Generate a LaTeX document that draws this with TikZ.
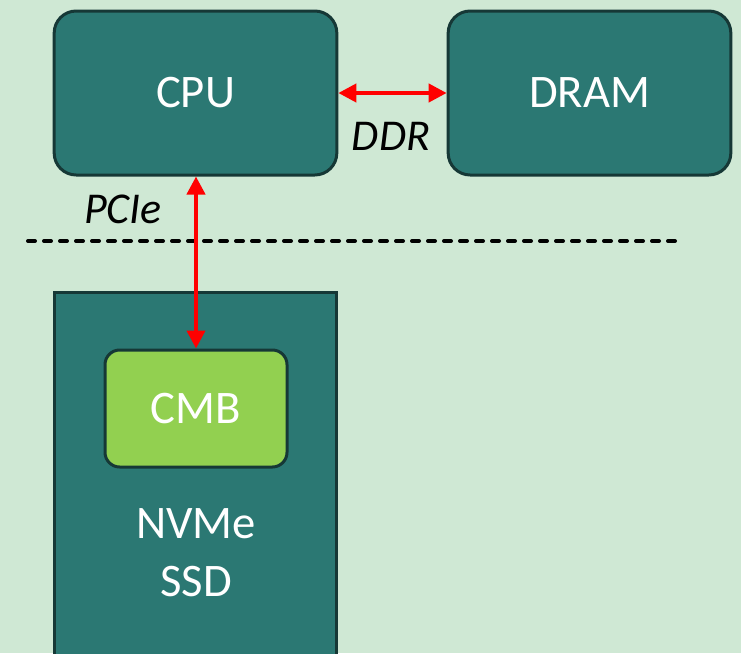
\documentclass[tikz,border=0pt]{standalone}
\usepackage{fontspec}
\setmainfont{Carlito}
\usepackage{xcolor}
\usetikzlibrary{arrows.meta}

\definecolor{bgmint}{HTML}{CFE8D4}
\definecolor{boxteal}{HTML}{2B7873}
\definecolor{boxedge}{HTML}{163836}
\definecolor{cmbgreen}{HTML}{92D050}

\begin{document}
\begin{tikzpicture}[
  x=0.75pt, y=-0.75pt,
  unit/.style={
    draw=boxedge, line width=2.25pt, fill=boxteal, rectangle,
    rounded corners=16.5pt, text=white,
    minimum width=212pt, minimum height=123pt,
    font=\fontsize{35}{42}\selectfont, align=center, inner sep=0pt
  },
  board/.style={
    draw=boxedge, line width=2.25pt, fill=boxteal, rectangle,
    minimum width=212pt, minimum height=298pt, inner sep=0pt
  },
  buffer/.style={
    draw=boxedge, line width=2.25pt, fill=cmbgreen, rectangle,
    rounded corners=11pt, text=white,
    minimum width=136.5pt, minimum height=87.75pt,
    font=\fontsize{35}{42}\selectfont, align=center, inner sep=0pt
  },
  bus/.style={
    draw=red, line width=3pt,
    {Triangle[width=13.5pt,length=13.5pt]}-{Triangle[width=13.5pt,length=13.5pt]}
  },
  buslabel/.style={font=\fontsize{33}{40}\selectfont\itshape, text=black, inner sep=0pt},
]
\path[use as bounding box, fill=bgmint] (0,0) rectangle (741,653);
\clip (0,0) rectangle (741,653);

\node[unit]   (cpu)  at (195.5, 93)   {CPU};
\node[unit]   (dram) at (589.5, 93)   {DRAM};
\node[board]  (ssd)  at (195.5, 491.5) {};
\node[buffer] (cmb)  at (196, 408.5)  {CMB};
\node[text=white, font=\fontsize{35}{43.5}\selectfont, align=center]
      (ssdname) at (196, 553) {NVMe\\SSD};

% host / device boundary
\coordinate (cut l) at (28, 241);
\coordinate (cut r) at (677, 241);
\draw[line width=3pt, line cap=round, dash pattern=on 5.25pt off 6.75pt] (cut l) -- (cut r);

\draw[bus] (cpu.east) -- (dram.west);
\node[buslabel] (ddr) at (391, 136) {DDR};
\draw[bus] (cpu.south -| cmb.north) -- (cmb.north);
\node[buslabel] (pcie) at (123, 209) {PCIe};
\end{tikzpicture}
\end{document}
